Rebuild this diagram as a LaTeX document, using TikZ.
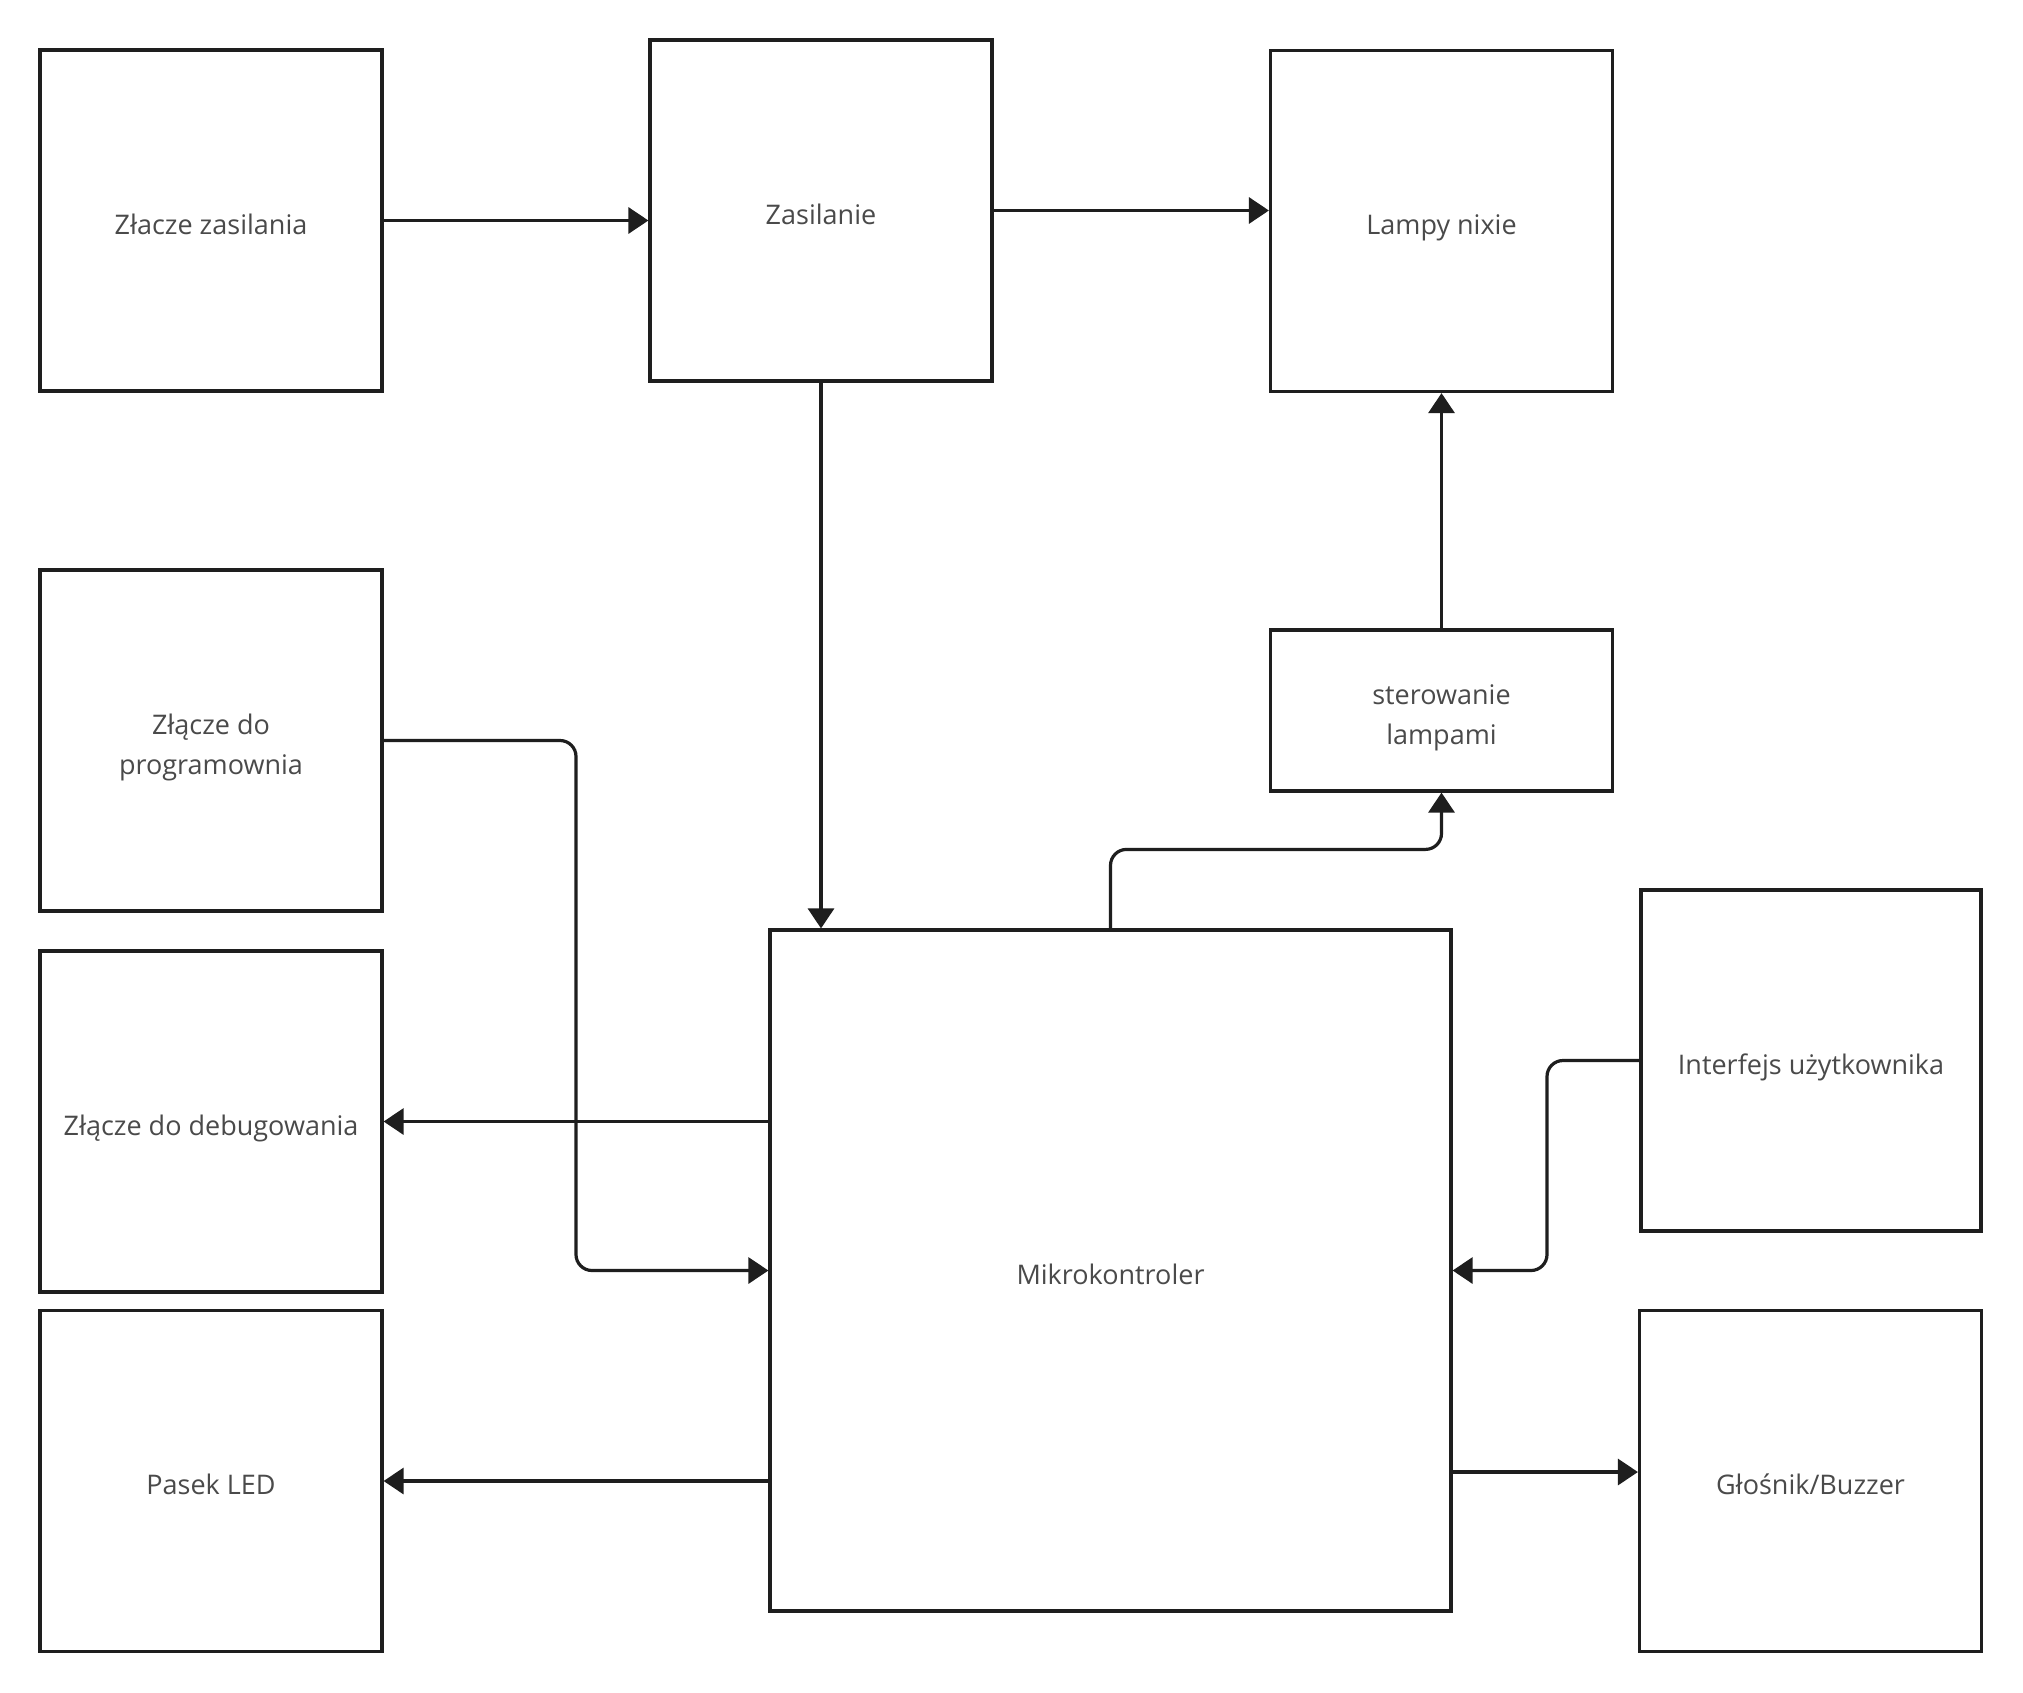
\documentclass[tikz,border=0pt]{standalone}
\usepackage{fontspec}
\setmainfont{Open Sans}
\usetikzlibrary{arrows.meta}
\definecolor{txt}{HTML}{4A4A4A}
\definecolor{ln}{HTML}{1E1E1E}
\newcommand\blktext[1]{\raisebox{-6.4pt}[0pt][0pt]{\begin{tabular}{@{}c@{}}#1\end{tabular}}}
\begin{document}
\begin{tikzpicture}[x=0.5pt,y=-0.5pt,
  blk/.style={draw=ln, line width=1.6pt, fill=white, minimum width=171pt, minimum height=170.5pt,
    inner sep=0pt, text=txt, font=\fontsize{13.5pt}{20pt}\selectfont},
  conn/.style={draw=ln, line width=1.6pt, rounded corners=8pt},
  arr/.style={conn, -{Triangle[length=10pt,width=13pt]}}]
\useasboundingbox[fill=white] (0,0) rectangle (2023,1692);
\node[blk] (zz) at (211,220.5) {\blktext{Złacze zasilania}};
\node[blk] (zas) at (821,210.5) {\blktext{Zasilanie}};
\node[blk] (lampy) at (1441.5,221) {\blktext{Lampy nixie}};
\node[blk] (prog) at (211,740.5) {\blktext{Złącze do\\programownia}};
\node[blk, minimum height=80.5pt] (ster) at (1441.5,710.5) {\blktext{sterowanie\\lampami}};
\node[blk] (debug) at (211,1121.5) {\blktext{Złącze do debugowania}};
\node[blk, minimum width=340.5pt, minimum height=340.5pt] (mikro) at (1110.5,1270.5) {\blktext{Mikrokontroler}};
\node[blk, minimum width=170pt] (inter) at (1811,1060.5) {\blktext{Interfejs użytkownika}};
\node[blk] (pasek) at (211,1481) {\blktext{Pasek LED}};
\node[blk] (glos) at (1810.5,1481) {\blktext{Głośnik/Buzzer}};
% connectors
\draw[arr] (zz.east) -- (zz.east -| zas.west);
\draw[arr] (zas.east) -- (zas.east -| lampy.west);
\draw[arr] (zas.south) -- (zas.south |- mikro.north);
\draw[arr] (ster.north) -- (ster.north |- lampy.south);
\draw[arr] (mikro.north) -- ++(0,-79) -| (ster.south);
\coordinate (pb) at (576,740.5);
\draw[arr] (prog.east) -- (pb) |- (mikro.west);
\draw[arr] (mikro.west |- debug.east) -- (debug.east);
\draw[arr] (mikro.west |- pasek.east) -- (pasek.east);
\coordinate (ib) at (1547,1060.5);
\draw[arr] (inter.west) -- (ib) |- (mikro.east);
\coordinate (gl) at ([yshift=4.5pt]glos.west);
\draw[arr] (gl -| mikro.east) -- (gl);
\end{tikzpicture}
\end{document}
